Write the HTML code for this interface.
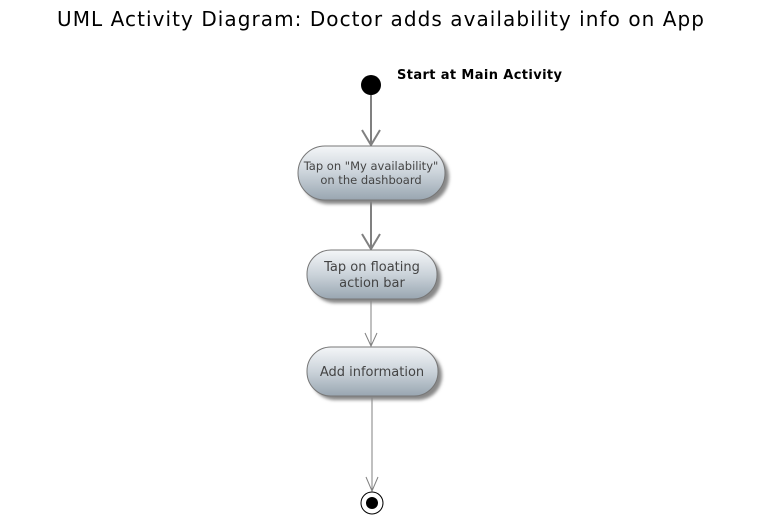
<!DOCTYPE html>
<html><head><style>body{margin:0;background:#fff}</style></head><body>
<svg width="760" height="522" xmlns="http://www.w3.org/2000/svg" font-family="'DejaVu Sans','Liberation Sans',sans-serif">
<defs>
<linearGradient id="g" x1="0" y1="0" x2="0" y2="1">
<stop offset="0" stop-color="#f4f6f8"/><stop offset="0.5" stop-color="#cbd3da"/><stop offset="1" stop-color="#99a6b1"/>
</linearGradient>
<filter id="s" x="-20%" y="-20%" width="140%" height="150%"><feGaussianBlur stdDeviation="1.5"/></filter>
</defs>
<text x="57" y="26" font-size="20" textLength="647" lengthAdjust="spacing" fill="#000">UML Activity Diagram: Doctor adds availability info on App</text>
<circle cx="371" cy="85" r="10" fill="#000"/>
<text x="397" y="79" font-size="13" font-weight="bold" textLength="165" lengthAdjust="spacing" fill="#000">Start at Main Activity</text>
<g stroke="#808080" fill="none">
<line x1="371" y1="95" x2="371" y2="145" stroke-width="2"/>
<polyline points="362,130 371,145 380,130" stroke-width="2"/>
<line x1="371" y1="200" x2="371" y2="249" stroke-width="2"/>
<polyline points="362,234 371,249 380,234" stroke-width="2"/>
<line x1="371" y1="299" x2="371" y2="346" stroke-width="1"/>
<polyline points="365,333 371,346 377,333" stroke-width="1"/>
<line x1="372" y1="396" x2="372" y2="491" stroke-width="1"/>
<polyline points="366,477 372,491 378,477" stroke-width="1"/>
</g>
<g>
<rect x="302" y="150" width="147" height="54" rx="27" fill="#888" filter="url(#s)"/>
<rect x="298" y="146" width="147" height="54" rx="27" fill="url(#g)" stroke="#777"/>
<rect x="311" y="254" width="130" height="49" rx="24" fill="#888" filter="url(#s)"/>
<rect x="307" y="250" width="130" height="49" rx="24" fill="url(#g)" stroke="#777"/>
<rect x="311" y="351" width="131" height="49" rx="24" fill="#888" filter="url(#s)"/>
<rect x="307" y="347" width="131" height="49" rx="24" fill="url(#g)" stroke="#777"/>
</g>
<g fill="#444" text-anchor="middle">
<text x="371" y="170" font-size="11.5">Tap on "My availability"</text>
<text x="371" y="184" font-size="11.5">on the dashboard</text>
<text x="372" y="271" font-size="13">Tap on floating</text>
<text x="372" y="287" font-size="13">action bar</text>
<text x="372" y="376" font-size="13">Add information</text>
</g>
<circle cx="372" cy="503" r="11" fill="#fff" stroke="#000" stroke-width="1"/>
<circle cx="372" cy="503" r="6" fill="#000"/>
</svg>
</body></html>
